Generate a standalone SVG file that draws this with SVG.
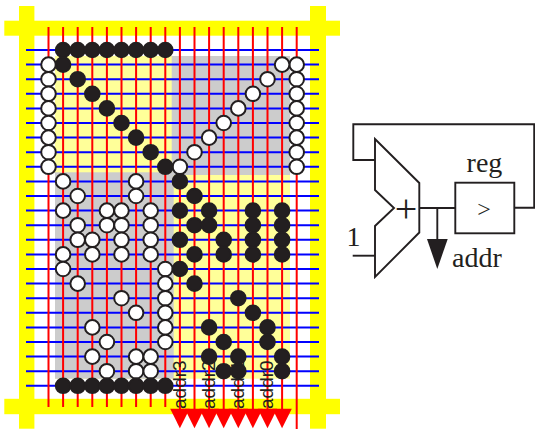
<svg xmlns="http://www.w3.org/2000/svg" width="535" height="432" viewBox="0 0 535 432">
<defs>
<style>
.frame{fill:#ffff00}
.h{stroke:#0000ff;stroke-width:2;fill:none}
.v{stroke:#ff0000;stroke-width:2;fill:none}
.w{fill:#fff;stroke:#231f20;stroke-width:2}
.b{fill:#231f20;stroke:#231f20;stroke-width:2}
.ln{stroke:#231f20;stroke-width:1.9;fill:none}
.t{font-family:"Liberation Serif",serif;font-size:28px;fill:#231f20}
.s{font-family:"Liberation Sans",sans-serif;font-size:19px;fill:#231f20}
</style>
<circle id="wd" class="w" cx="0" cy="0" r="7.3"/>
<circle id="bd" class="b" cx="0" cy="0" r="7.3"/>
<polygon id="ar" points="-9.7,0 9.7,0 0,19.5" fill="#ff0000"/>
</defs>
<rect width="535" height="432" fill="#fff"/>
<g id="frame">
<rect class="frame" x="4.3" y="20.7" width="335.7" height="15"/>
<rect class="frame" x="4.3" y="398.8" width="335.7" height="15.4"/>
<rect class="frame" x="19" y="6" width="15.4" height="422.7"/>
<rect class="frame" x="310" y="6" width="16" height="422.7"/>
</g>
<g id="regions">
<rect x="55" y="56" width="235" height="322.7" fill="#ffff99"/>
<rect x="171.7" y="56" width="118.3" height="119" fill="#cccccc"/>
<rect x="55" y="172.3" width="118.7" height="206.4" fill="#cccccc"/>
</g>
<g id="connectors">
<path class="h" d="M26 50H319M26 64.6H319M26 79.2H319M26 93.8H319M26 108.4H319M26 123H319M26 137.6H319M26 152.2H319M26 166.8H319M26 181.4H319M26 196H319M26 210.6H319M26 225.2H319M26 239.8H319M26 254.4H319M26 269H319M26 283.6H319M26 298.2H319M26 312.8H319M26 327.4H319M26 342H319M26 356.6H319M26 371.2H319M26 385.8H319"/>
<path class="v" d="M48.5 27V407M63.1 27V407M77.7 27V407M92.3 27V407M106.9 27V407M121.5 27V407M136.1 27V407M150.7 27V407M165.3 27V407M179.9 27V420M194.5 27V420M209.1 27V420M223.7 27V420M238.3 27V420M252.9 27V420M267.5 27V420M282.1 27V420M296.7 27V429"/>
</g>
<g id="labels">
<text class="s" transform="translate(185.5 409) rotate(-90)">addr3</text>
<text class="s" transform="translate(214.7 409) rotate(-90)">addr2</text>
<text class="s" transform="translate(243.9 409) rotate(-90)">addr1</text>
<text class="s" transform="translate(273.1 409) rotate(-90)">addr0</text>
</g>
<g id="arrows">
<use href="#ar" x="179.9" y="408.7"/><use href="#ar" x="194.5" y="408.7"/><use href="#ar" x="209.1" y="408.7"/><use href="#ar" x="223.7" y="408.7"/><use href="#ar" x="238.3" y="408.7"/><use href="#ar" x="252.9" y="408.7"/><use href="#ar" x="267.5" y="408.7"/><use href="#ar" x="282.1" y="408.7"/>
</g>
<g id="white-dots">
<use href="#wd" x="48.5" y="64.6"/><use href="#wd" x="48.5" y="79.2"/><use href="#wd" x="48.5" y="93.8"/><use href="#wd" x="48.5" y="108.4"/><use href="#wd" x="48.5" y="123"/><use href="#wd" x="48.5" y="137.6"/><use href="#wd" x="48.5" y="152.2"/><use href="#wd" x="48.5" y="166.8"/>
<use href="#wd" x="296.7" y="64.6"/><use href="#wd" x="296.7" y="79.2"/><use href="#wd" x="296.7" y="93.8"/><use href="#wd" x="296.7" y="108.4"/><use href="#wd" x="296.7" y="123"/><use href="#wd" x="296.7" y="137.6"/><use href="#wd" x="296.7" y="152.2"/><use href="#wd" x="296.7" y="166.8"/>
<use href="#wd" x="282.1" y="64.6"/><use href="#wd" x="267.5" y="79.2"/><use href="#wd" x="252.9" y="93.8"/><use href="#wd" x="238.3" y="108.4"/><use href="#wd" x="223.7" y="123"/><use href="#wd" x="209.1" y="137.6"/><use href="#wd" x="194.5" y="152.2"/><use href="#wd" x="179.9" y="166.8"/>
<use href="#wd" x="63.1" y="181.4"/><use href="#wd" x="136.1" y="181.4"/>
<use href="#wd" x="77.7" y="196"/><use href="#wd" x="136.1" y="196"/>
<use href="#wd" x="63.1" y="210.6"/><use href="#wd" x="106.9" y="210.6"/><use href="#wd" x="121.5" y="210.6"/><use href="#wd" x="150.7" y="210.6"/>
<use href="#wd" x="77.7" y="225.2"/><use href="#wd" x="106.9" y="225.2"/><use href="#wd" x="121.5" y="225.2"/><use href="#wd" x="150.7" y="225.2"/>
<use href="#wd" x="77.7" y="239.8"/><use href="#wd" x="92.3" y="239.8"/><use href="#wd" x="121.5" y="239.8"/><use href="#wd" x="150.7" y="239.8"/>
<use href="#wd" x="63.1" y="254.4"/><use href="#wd" x="92.3" y="254.4"/><use href="#wd" x="121.5" y="254.4"/><use href="#wd" x="150.7" y="254.4"/>
<use href="#wd" x="63.1" y="269"/><use href="#wd" x="165.3" y="269"/>
<use href="#wd" x="77.7" y="283.6"/><use href="#wd" x="165.3" y="283.6"/>
<use href="#wd" x="121.5" y="298.2"/><use href="#wd" x="165.3" y="298.2"/>
<use href="#wd" x="136.1" y="312.8"/><use href="#wd" x="165.3" y="312.8"/>
<use href="#wd" x="92.3" y="327.4"/><use href="#wd" x="165.3" y="327.4"/>
<use href="#wd" x="106.9" y="342"/><use href="#wd" x="165.3" y="342"/>
<use href="#wd" x="92.3" y="356.6"/><use href="#wd" x="136.1" y="356.6"/><use href="#wd" x="150.7" y="356.6"/>
<use href="#wd" x="106.9" y="371.2"/><use href="#wd" x="136.1" y="371.2"/><use href="#wd" x="150.7" y="371.2"/>
</g>
<g id="black-dots">
<use href="#bd" x="63.1" y="50"/><use href="#bd" x="77.7" y="50"/><use href="#bd" x="92.3" y="50"/><use href="#bd" x="106.9" y="50"/><use href="#bd" x="121.5" y="50"/><use href="#bd" x="136.1" y="50"/><use href="#bd" x="150.7" y="50"/><use href="#bd" x="165.3" y="50"/>
<use href="#bd" x="63.1" y="64.6"/><use href="#bd" x="77.7" y="79.2"/><use href="#bd" x="92.3" y="93.8"/><use href="#bd" x="106.9" y="108.4"/><use href="#bd" x="121.5" y="123"/><use href="#bd" x="136.1" y="137.6"/><use href="#bd" x="150.7" y="152.2"/><use href="#bd" x="165.3" y="166.8"/>
<use href="#bd" x="179.9" y="181.4"/><use href="#bd" x="194.5" y="196"/>
<use href="#bd" x="179.9" y="210.6"/><use href="#bd" x="209.1" y="210.6"/><use href="#bd" x="252.9" y="210.6"/><use href="#bd" x="282.1" y="210.6"/>
<use href="#bd" x="194.5" y="225.2"/><use href="#bd" x="209.1" y="225.2"/><use href="#bd" x="252.9" y="225.2"/><use href="#bd" x="282.1" y="225.2"/>
<use href="#bd" x="179.9" y="239.8"/><use href="#bd" x="223.7" y="239.8"/><use href="#bd" x="252.9" y="239.8"/><use href="#bd" x="282.1" y="239.8"/>
<use href="#bd" x="194.5" y="254.4"/><use href="#bd" x="223.7" y="254.4"/><use href="#bd" x="252.9" y="254.4"/><use href="#bd" x="282.1" y="254.4"/>
<use href="#bd" x="179.9" y="269"/><use href="#bd" x="194.5" y="283.6"/><use href="#bd" x="238.3" y="298.2"/><use href="#bd" x="252.9" y="312.8"/>
<use href="#bd" x="209.1" y="327.4"/><use href="#bd" x="267.5" y="327.4"/>
<use href="#bd" x="223.7" y="342"/><use href="#bd" x="267.5" y="342"/>
<use href="#bd" x="209.1" y="356.6"/><use href="#bd" x="238.3" y="356.6"/><use href="#bd" x="282.1" y="356.6"/>
<use href="#bd" x="223.7" y="371.2"/><use href="#bd" x="238.3" y="371.2"/><use href="#bd" x="282.1" y="371.2"/>
<use href="#bd" x="63.1" y="385.8"/><use href="#bd" x="77.7" y="385.8"/><use href="#bd" x="92.3" y="385.8"/><use href="#bd" x="106.9" y="385.8"/><use href="#bd" x="121.5" y="385.8"/><use href="#bd" x="136.1" y="385.8"/><use href="#bd" x="150.7" y="385.8"/><use href="#bd" x="165.3" y="385.8"/>
</g>
<g id="adder">
<polygon class="ln" points="375,139 419.3,183 419.3,232.5 375,277 375,226 394,208 375,190"/>
<text class="t" x="406" y="222" text-anchor="middle" style="font-size:40px">+</text>
</g>
<g id="register">
<rect class="ln" x="455.3" y="182.7" width="59" height="50.6"/>
<text class="t" x="484" y="217" text-anchor="middle" style="font-size:24px">&gt;</text>
<text class="t" x="484.5" y="172" text-anchor="middle">reg</text>
</g>
<g id="wires">
<path class="ln" d="M375 160H353.3V124.3H534.2V207.7H514.3"/>
<path class="ln" d="M419.3 208H455.3"/>
<path class="ln" d="M437.3 208V240"/>
<path class="ln" d="M352.7 255.7H375"/>
<polygon points="427,239 447.7,239 437.3,269" fill="#231f20"/>
</g>
<g id="wire-labels">
<text class="t" x="346.5" y="245.7">1</text>
<text class="t" x="452" y="267">addr</text>
</g>
</svg>
